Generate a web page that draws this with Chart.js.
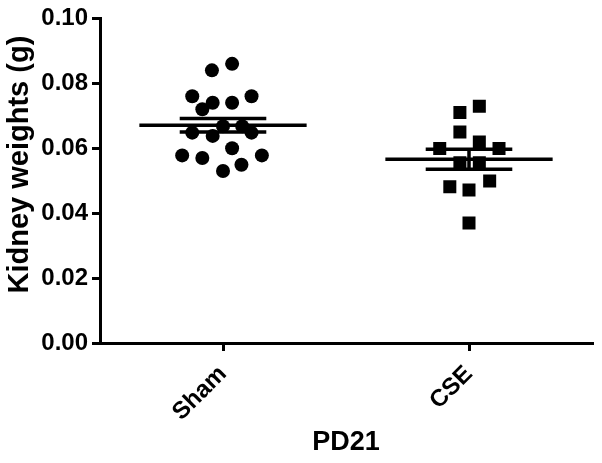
<!DOCTYPE html>
<html>
<head>
<meta charset="utf-8">
<title>Kidney weights PD21</title>
<script src="https://cdn.jsdelivr.net/npm/chart.js@4.4.0/dist/chart.umd.min.js"></script>
<style>
    html, body { margin: 0; padding: 0; background: #fff; }
    #wrap { width: 602px; height: 463px; }
</style>
</head>
<body>
<div id="wrap"><canvas id="kidneyChart" width="602" height="463"></canvas></div>
<script>
// groups on the x axis and the y tick values
const groups = ['Sham', 'CSE'];
const yTicks = [0.00, 0.02, 0.04, 0.06, 0.08, 0.10];

// individual kidney weights (g)
const shamValues = [0.086, 0.084, 0.076, 0.076, 0.074, 0.074, 0.072, 0.0648, 0.0638, 0.0668, 0.0668, 0.0648, 0.060, 0.0578, 0.057, 0.0578, 0.0549, 0.053];
// horizontal scatter of each point around its group (category units)
const shamJitter = [0.037, -0.045, -0.125, 0.116, -0.042, 0.037, -0.084, -0.125, -0.042, 0, 0.078, 0.116, 0.037, -0.166, -0.084, 0.158, 0.075, 0];

const cseValues = [0.0729, 0.0710, 0.0650, 0.0619, 0.0599, 0.0599, 0.0555, 0.0555, 0.0499, 0.0481, 0.0471, 0.0370];
const cseJitter = [0.042, -0.037, -0.037, 0.042, -0.119, 0.122, -0.037, 0.042, 0.084, -0.078, 0, 0];

// mean and SEM per group
const groupMeans = [0.0671, 0.0566];
const groupSems = [0.0021, 0.0031];

const FONT = "'Liberation Sans', Arial, Helvetica, sans-serif";

const toPoints = (values, jitter, pos) => values.map((v, i) => ({ x: pos + jitter[i], y: v }));

// mean line + SEM bars, drawn over the points like Prism does
const meanSemPlugin = {
    id: 'meanSem',
    afterDatasetsDraw(chart) {
        const { ctx, scales: { x, y } } = chart;
        ctx.save();
        ctx.strokeStyle = '#000';
        ctx.lineWidth = 3.5;
        groupMeans.forEach((m, i) => {
            const pos = i + 1;
            const s = groupSems[i];
            const yMean = y.getPixelForValue(m);
            const yHi = y.getPixelForValue(m + s);
            const yLo = y.getPixelForValue(m - s);
            const xc = x.getPixelForValue(pos);
            ctx.beginPath();
            ctx.moveTo(x.getPixelForValue(pos - 0.34), yMean);
            ctx.lineTo(x.getPixelForValue(pos + 0.34), yMean);
            ctx.moveTo(x.getPixelForValue(pos - 0.176), yHi);
            ctx.lineTo(x.getPixelForValue(pos + 0.176), yHi);
            ctx.moveTo(x.getPixelForValue(pos - 0.176), yLo);
            ctx.lineTo(x.getPixelForValue(pos + 0.176), yLo);
            ctx.moveTo(xc, yHi);
            ctx.lineTo(xc, yLo);
            ctx.stroke();
        });
        ctx.restore();
    }
};

const chart = new Chart(document.getElementById('kidneyChart'), {
    type: 'scatter',
    data: {
        datasets: [
            {
                label: groups[0],
                data: toPoints(shamValues, shamJitter, 1),
                pointStyle: 'circle',
                pointRadius: 7,
                pointHoverRadius: 7,
                backgroundColor: '#000',
                borderWidth: 0
            },
            {
                label: groups[1],
                data: toPoints(cseValues, cseJitter, 2),
                pointStyle: 'rect',
                pointRadius: 9.2,
                pointHoverRadius: 9.2,
                backgroundColor: '#000',
                borderWidth: 0
            }
        ]
    },
    options: {
        responsive: false,
        animation: false,
        devicePixelRatio: 1,
        layout: { padding: { top: 18, right: 10, left: 0, bottom: 0 } },
        plugins: {
            legend: { display: false },
            tooltip: { enabled: false }
        },
        scales: {
            x: {
                type: 'linear',
                min: 0.5,
                max: 2.5,
                afterBuildTicks: scale => {
                    scale.ticks = groups.map((g, i) => ({ value: i + 1 }));
                },
                afterFit: scale => { scale.height = 120; },
                border: { display: true, color: '#000', width: 3 },
                grid: { display: true, drawOnChartArea: false, drawTicks: true, tickLength: 8, color: '#000', lineWidth: 3 },
                ticks: {
                    autoSkip: false,
                    maxRotation: 45,
                    minRotation: 45,
                    padding: 9,
                    color: '#000',
                    font: { family: FONT, size: 24, weight: 'bold' },
                    callback: value => groups[Math.round(value) - 1]
                },
                title: {
                    display: true,
                    text: 'PD21',
                    color: '#000',
                    padding: { top: 4, bottom: 4 },
                    font: { family: FONT, size: 27, weight: 'bold' }
                }
            },
            y: {
                min: 0,
                max: 0.1,
                afterBuildTicks: scale => {
                    scale.ticks = yTicks.map(v => ({ value: v }));
                },
                afterFit: scale => { scale.width = 100; },
                border: { display: true, color: '#000', width: 3 },
                grid: { display: true, drawOnChartArea: false, drawTicks: true, tickLength: 8, color: '#000', lineWidth: 3 },
                ticks: {
                    padding: 4,
                    color: '#000',
                    font: { family: FONT, size: 24, weight: 'bold' },
                    callback: value => value.toFixed(2)
                },
                title: {
                    display: true,
                    // leading spaces nudge the rotated title up, as in the original
                    text: '    Kidney weights (g)',
                    color: '#000',
                    padding: { top: 3, bottom: 4 },
                    font: { family: FONT, size: 29, weight: 'bold' }
                }
            }
        }
    },
    plugins: [meanSemPlugin]
});
</script>
</body>
</html>
